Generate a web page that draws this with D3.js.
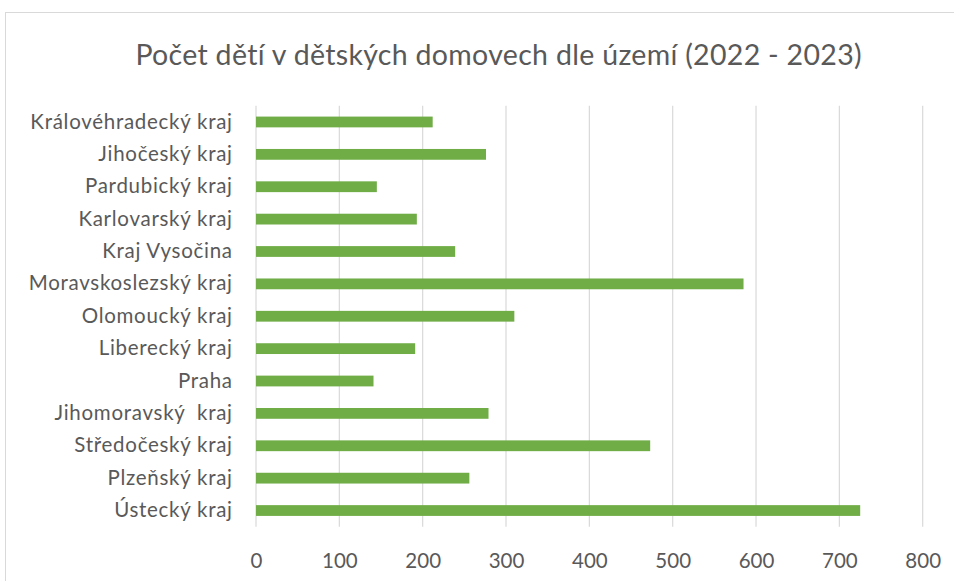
<!DOCTYPE html>
<html>
<head>
<meta charset="utf-8">
<script src="https://cdn.jsdelivr.net/npm/d3@7/dist/d3.min.js"></script>
<style>
  html, body { margin: 0; padding: 0; background: #fff; }
  svg { display: block; }
  text { font-family: Lato, "Open Sans", sans-serif; }
</style>
</head>
<body>
<svg id="chart" width="954" height="581"></svg>
<script>
const categories = [
  "Královéhradecký kraj", "Jihočeský kraj", "Pardubický kraj", "Karlovarský kraj",
  "Kraj Vysočina", "Moravskoslezský kraj", "Olomoucký kraj", "Liberecký kraj",
  "Praha", "Jihomoravský  kraj", "Středočeský kraj", "Plzeňský kraj", "Ústecký kraj"
];
const values = [212, 276, 145, 193, 239, 585, 310, 191, 141, 279, 473, 256, 725];
const xTicks = [0, 100, 200, 300, 400, 500, 600, 700, 800];
const title = "Počet dětí v dětských domovech dle území (2022 - 2023)";

const svg = d3.select("#chart");
svg.append("rect").attr("x", 5.5).attr("y", 12.5).attr("width", 1000).attr("height", 1000)
  .attr("fill", "#fff").attr("stroke", "#d9d9d9").attr("stroke-width", 1);

const pLeft = 256, pRight = 922.7, pTop = 105.8, pBottom = 526.7;
const x = d3.scaleLinear().domain([0, 800]).range([pLeft, pRight]);
const y = d3.scaleBand().domain(categories).range([pTop, pBottom]).paddingInner(0.667).paddingOuter(0.333);

svg.append("g").selectAll("line").data(xTicks).join("line")
  .attr("x1", d => x(d)).attr("x2", d => x(d))
  .attr("y1", pTop).attr("y2", pBottom)
  .attr("stroke", "#d9d9d9").attr("stroke-width", 1.2);

svg.append("g").selectAll("rect").data(values).join("rect")
  .attr("x", x(0)).attr("y", (d, i) => y(categories[i]))
  .attr("width", d => x(d) - x(0)).attr("height", y.bandwidth())
  .attr("fill", "#70ad47");

function fitSpacing(node, target) {
  const w = node.getComputedTextLength();
  const n = node.textContent.length;
  return (target - w) / n;
}

const yAxis = d3.axisLeft(y).tickSize(0).tickPadding(0);
const gy = svg.append("g").attr("transform", `translate(${pLeft - 24},0)`).call(yAxis);
gy.select(".domain").remove();
const yTexts = gy.selectAll("text").attr("font-size", 20.5).attr("fill", "#595959")
  .style("font-family", "Lato, sans-serif").style("white-space", "pre");
let ls = 0;
yTexts.each(function() { if (this.textContent === "Moravskoslezský kraj") ls = fitSpacing(this, 204); });
yTexts.style("letter-spacing", ls + "px").attr("dx", ls);

const xAxis = d3.axisBottom(x).tickValues(xTicks).tickSize(0).tickPadding(0);
const gx = svg.append("g").attr("transform", `translate(0,${pBottom + 33.5})`).call(xAxis);
gx.select(".domain").remove();
gx.selectAll("text").attr("font-size", 20.5).attr("fill", "#595959").attr("dy", "0.36em")
  .style("font-family", "Lato, sans-serif");

const t = svg.append("text").attr("x", 498.5).attr("y", 55).attr("dy", "0.36em")
  .attr("text-anchor", "middle").attr("font-size", 28.5).attr("fill", "#595959")
  .text(title);
const tls = fitSpacing(t.node(), 727);
t.style("letter-spacing", tls + "px").attr("dx", tls / 2);
</script>
</body>
</html>
